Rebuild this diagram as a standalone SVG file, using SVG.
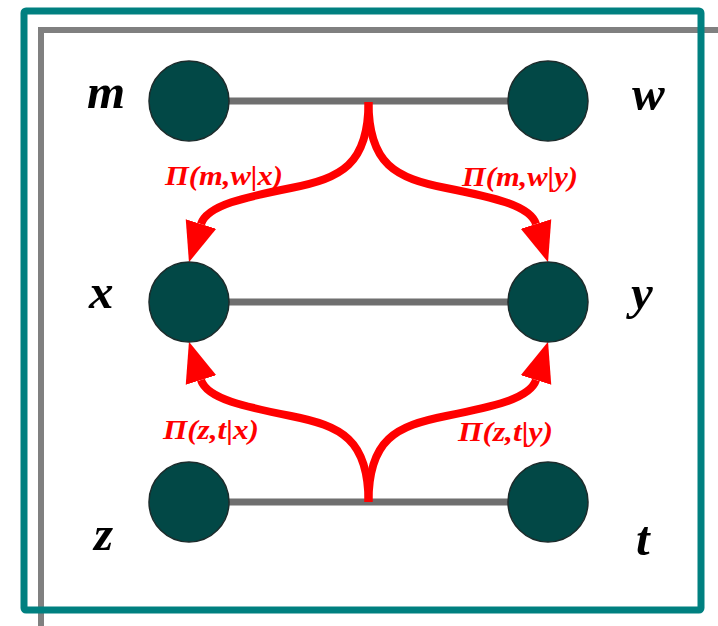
<svg xmlns="http://www.w3.org/2000/svg" width="718" height="626" viewBox="0 0 718 626">
  <defs>
    <style>
      .node { fill: #024846; stroke: #1c2b2b; stroke-width: 1.5; }
      .lbl { font-family: "Liberation Serif", "Times New Roman", serif; font-weight: bold; font-style: italic; font-size: 49px; fill: #000; }
      .pl { font-family: "Liberation Serif", "Times New Roman", serif; font-weight: bold; font-style: italic; font-size: 27px; fill: #ff0000; }
      .edge { stroke: #6f6f6f; stroke-width: 7; fill: none; }
      .flow { stroke: #ff0000; stroke-width: 8; fill: none; marker-end: url(#ah); }
    </style>
    <marker id="ah" markerUnits="userSpaceOnUse" markerWidth="42" markerHeight="36" viewBox="0 -18 42 36" refX="0" refY="0" orient="auto">
      <path d="M0,-16 L40,0 L0,16 z" fill="#ff0000"/>
    </marker>
  </defs>
  <rect x="0" y="0" width="718" height="626" fill="#ffffff"/>
  <g id="frames">
    <rect x="41" y="30" width="720" height="660" fill="none" stroke="#808080" stroke-width="6"/>
    <rect x="24" y="11" width="677" height="599" rx="2" fill="none" stroke="#008080" stroke-width="7"/>
  </g>
  <g id="connectors">
    <line class="edge" x1="229" y1="101" x2="508" y2="101"/>
    <line class="edge" x1="229" y1="302" x2="508" y2="302"/>
    <line class="edge" x1="229" y1="502" x2="508" y2="502"/>
    <path class="flow" d="M368.5 102 C368.5 165 341 178 291 188 C246 197 207 205 201 224"/>
    <path class="flow" d="M368.5 102 C368.5 165 396 178 446 188 C491 197 530 205 536 224"/>
    <path class="flow" d="M368.5 502 C368.5 439 341 426 291 416 C246 407 207 399 201 380"/>
    <path class="flow" d="M368.5 502 C368.5 439 396 426 446 416 C491 407 530 399 536 380"/>
    <text class="pl" x="165" y="185" textLength="118" lengthAdjust="spacingAndGlyphs">Π(m,w|x)</text>
    <text class="pl" x="462" y="186" textLength="116" lengthAdjust="spacingAndGlyphs">Π(m,w|y)</text>
    <text class="pl" x="163" y="439" textLength="96" lengthAdjust="spacingAndGlyphs">Π(z,t|x)</text>
    <text class="pl" x="458" y="441" textLength="95" lengthAdjust="spacingAndGlyphs">Π(z,t|y)</text>
  </g>
  <g id="node-m">
    <circle class="node" cx="189" cy="101" r="40"/>
    <text class="lbl" x="87" y="108">m</text>
  </g>
  <g id="node-w">
    <circle class="node" cx="548" cy="101" r="40"/>
    <text class="lbl" x="632" y="110">w</text>
  </g>
  <g id="node-x">
    <circle class="node" cx="189" cy="302" r="40"/>
    <text class="lbl" x="89" y="308">x</text>
  </g>
  <g id="node-y">
    <circle class="node" cx="548" cy="302" r="40"/>
    <text class="lbl" x="631" y="309">y</text>
  </g>
  <g id="node-z">
    <circle class="node" cx="189" cy="502" r="40"/>
    <text class="lbl" x="94" y="550">z</text>
  </g>
  <g id="node-t">
    <circle class="node" cx="548" cy="502" r="40"/>
    <text class="lbl" x="636" y="555">t</text>
  </g>
</svg>
